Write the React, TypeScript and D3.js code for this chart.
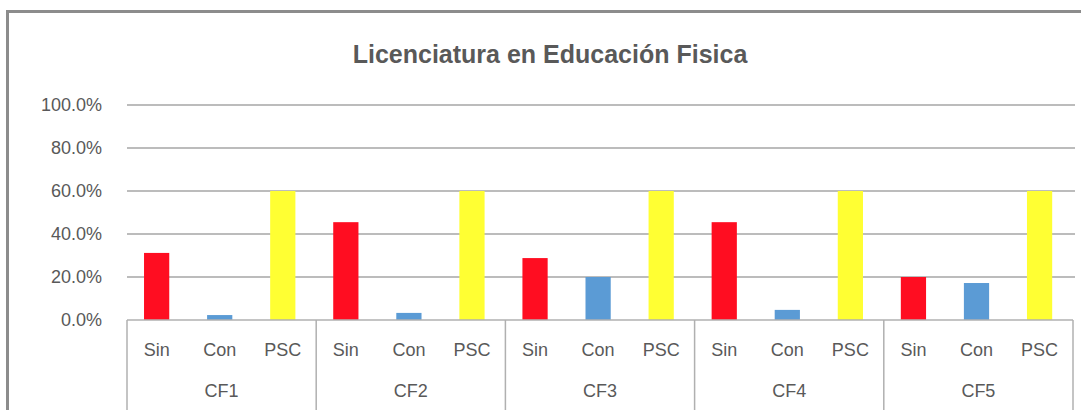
import { useRef, useEffect } from 'react';
import * as d3 from 'd3';

const groups = ['CF1', 'CF2', 'CF3', 'CF4', 'CF5'];
const subCats = ['Sin', 'Con', 'PSC'];
const sinValues = [31.2, 45.5, 28.8, 45.5, 20.0];
const conValues = [2.3, 3.3, 20.0, 4.7, 17.2];
const pscValues = [60.0, 60.0, 60.0, 60.0, 60.0];
const yTicks = [0, 20, 40, 60, 80, 100];

const COLORS = { Sin: '#ff0d21', Con: '#5b9bd5', PSC: '#ffff33' };

export default function App() {
  const ref = useRef<SVGSVGElement>(null);

  useEffect(() => {
    if (!ref.current) return;
    const width = 1081;
    const height = 410;
    const left = 127;
    const right = 1073;
    const top = 105;
    const bottom = 320;
    const font = 'Arial, "Liberation Sans", sans-serif';
    const textColor = '#595959';

    const svg = d3.select(ref.current);
    svg.selectAll('*').remove();
    svg.attr('width', width).attr('height', height);

    // frame
    svg.append('rect')
      .attr('x', 7.5).attr('y', 11.5)
      .attr('width', width + 20).attr('height', height + 20)
      .attr('fill', 'white')
      .attr('stroke', '#8c8c8c').attr('stroke-width', 3);

    svg.append('text')
      .attr('x', 550).attr('y', 63)
      .attr('text-anchor', 'middle')
      .style('font-family', font)
      .style('font-size', '25px')
      .style('font-weight', 'bold')
      .style('fill', textColor)
      .text('Licenciatura en Educación Fisica');

    const y = d3.scaleLinear().domain([0, 100]).range([bottom, top]);
    const x0 = d3.scaleBand().domain(groups).range([left, right]).padding(0);
    const x1 = d3.scaleBand().domain(subCats).range([0, x0.bandwidth()])
      .paddingInner(0.6).paddingOuter(0.3).align(0.45);

    // gridlines
    svg.append('g').selectAll('line')
      .data(yTicks.filter((t) => t > 0))
      .enter().append('line')
      .attr('x1', left).attr('x2', right + 2)
      .attr('y1', (d) => y(d)).attr('y2', (d) => y(d))
      .attr('stroke', '#a6a6a6').attr('stroke-width', 1.5);

    svg.append('g').selectAll('text')
      .data(yTicks)
      .enter().append('text')
      .attr('x', 102).attr('y', (d) => y(d))
      .attr('dy', '0.35em')
      .attr('text-anchor', 'end')
      .style('font-family', font)
      .style('font-size', '18px')
      .style('fill', textColor)
      .text((d) => `${d.toFixed(1)}%`);

    const rows = groups.map((g, i) => ({
      group: g,
      values: [
        { key: 'Sin', value: sinValues[i] },
        { key: 'Con', value: conValues[i] },
        { key: 'PSC', value: pscValues[i] },
      ],
    }));

    const gGroups = svg.append('g').selectAll('g')
      .data(rows)
      .enter().append('g')
      .attr('transform', (d) => `translate(${x0(d.group)},0)`);

    gGroups.selectAll('rect')
      .data((d) => d.values)
      .enter().append('rect')
      .attr('x', (d) => x1(d.key)!)
      .attr('width', x1.bandwidth())
      .attr('y', (d) => y(d.value))
      .attr('height', (d) => y(0) - y(d.value))
      .attr('fill', (d) => COLORS[d.key as keyof typeof COLORS]);

    gGroups.selectAll('text.sub')
      .data((d) => d.values)
      .enter().append('text')
      .attr('class', 'sub')
      .attr('x', (d) => x1(d.key)! + x1.bandwidth() / 2)
      .attr('y', 356)
      .attr('text-anchor', 'middle')
      .style('font-family', font)
      .style('font-size', '18px')
      .style('fill', textColor)
      .text((d) => d.key);

    gGroups.append('text')
      .attr('x', x0.bandwidth() / 2)
      .attr('y', 397)
      .attr('text-anchor', 'middle')
      .style('font-family', font)
      .style('font-size', '18px')
      .style('fill', textColor)
      .text((d) => d.group);

    // axis line and group dividers
    svg.append('line')
      .attr('x1', left).attr('x2', right)
      .attr('y1', bottom).attr('y2', bottom)
      .attr('stroke', '#b0b0b0').attr('stroke-width', 1.5);

    svg.append('g').selectAll('line')
      .data([...groups.map((g) => x0(g)!), right])
      .enter().append('line')
      .attr('x1', (d) => d).attr('x2', (d) => d)
      .attr('y1', bottom).attr('y2', height)
      .attr('stroke', '#b0b0b0').attr('stroke-width', 1.5);
  }, []);

  return (
    <svg ref={ref} style={{ position: 'absolute', left: 0, top: 0, display: 'block' }} />
  );
}
